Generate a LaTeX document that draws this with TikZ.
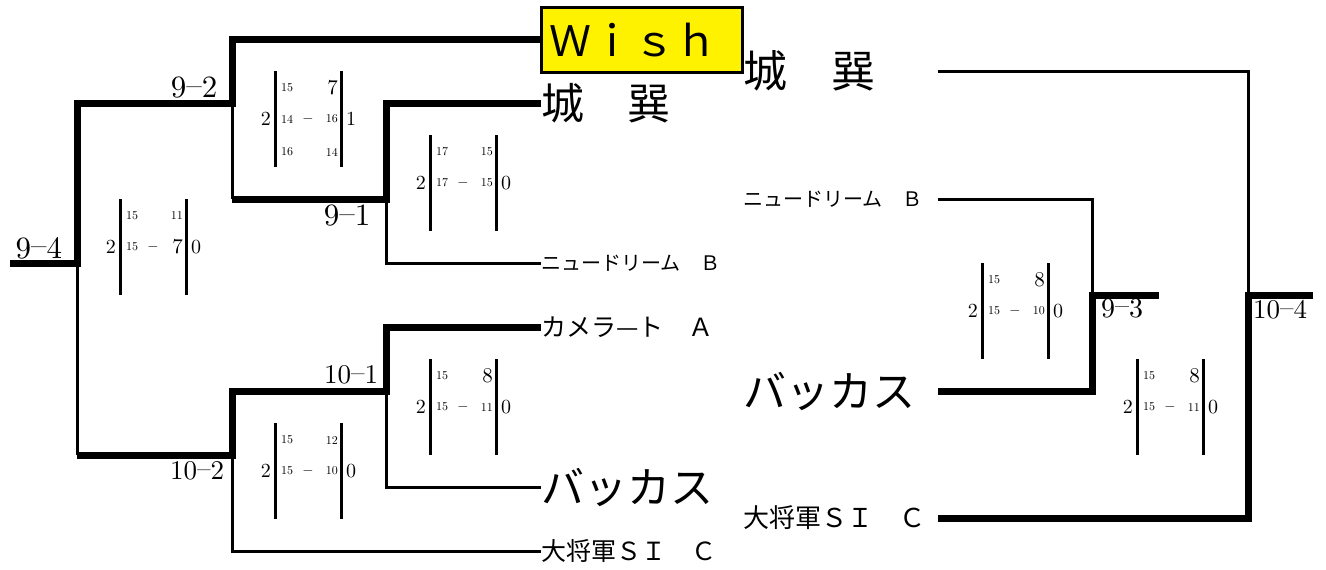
\documentclass[tikz,border=0pt]{standalone}
\usepackage{fontspec}
\newfontfamily\jp{Noto Sans CJK JP}
\newfontfamily\lmten{lmroman10-regular}[Extension=.otf]
\newcommand\fs[1]{\fontsize{#1}{#1}\selectfont}
\newcommand\sn[1]{{\fs{12}#1}}
\newcommand\bn[1]{{\fs{21}#1}}
\newcommand\dsh{\raisebox{0.08em}{–}}
\newcommand\scorebox[9]{%
  \begin{scope}[shift={(#2,#3)}]
    \draw[barline] (0,0) -- (0,96);
    \draw[barline] (66,0) -- (66,96);
    \node[num,anchor=east,font=\lmten\fs{20}] (#1-l) at (-4,48) {#4};
    \node[num,anchor=west,font=\lmten\fs{20}] (#1-r) at (71,48) {#5};
    \node[num,anchor=west] (#1-a) at (6,17) {#6};
    \node[num,anchor=east] (#1-b) at (63,17) {#7};
    \node[num,anchor=west] (#1-c) at (6,48) {#8};
    \node[num,anchor=east] (#1-d) at (63,48) {#9};
    \node[num,font=\fs{14}] (#1-m) at (33,48) {$-$};
  \end{scope}}
\begin{document}
\begin{tikzpicture}[x=1pt,y=-1pt,
  wline/.style={line width=7pt,line join=miter},
  nline/.style={line width=3pt,line join=miter},
  barline/.style={line width=3pt},
  num/.style={inner sep=0pt,font=\lmten},
  lblA/.style={inner sep=0pt,font=\lmten\fs{31}},
  lblB/.style={inner sep=0pt,font=\lmten\fs{27}},
  jname/.style={anchor=west,inner sep=0pt},
  rjname/.style={anchor=west,inner sep=0pt,text width=195pt,align=left}]
\useasboundingbox (0,0) rectangle (1326,570);

% ---- names, first column
\node[anchor=north west,draw,line width=2.5pt,fill=yellow,inner xsep=8pt,inner ysep=0pt,
      text width=185pt,align=left,minimum height=65pt,font=\jp\fs{42}] (wish) at (540,6) {Ｗｉｓｈ};
\node[jname,font=\jp\fs{43}] (jo1) at (541,103) {城　巽};
\node[jname,font=\jp\fs{20}] (nd1) at (541,263) {ニュードリーム　Ｂ};
\node[jname,font=\jp\fs{25}] (kam1) at (541,327) {カメラ—ト　Ａ};
\node[jname,font=\jp\fs{43}] (bac1) at (541,487) {バッカス};
\node[jname,font=\jp\fs{25}] (tai1) at (541,551) {大将軍ＳＩ　Ｃ};

% ---- names, second column
\node[rjname,font=\jp\fs{44}] (jo2) at (743,71) {城　巽};
\node[rjname,font=\jp\fs{20}] (nd2) at (743,199) {ニュードリーム　Ｂ};
\node[rjname,font=\jp\fs{43}] (bac2) at (743,391) {バッカス};
\node[rjname,font=\jp\fs{26}] (tai2) at (743,518) {大将軍ＳＩ　Ｃ};

% ---- junctions
\coordinate (s94) at (10,263);
\coordinate (j94) at (77,263);
\coordinate (b94) at (77,455);
\coordinate (t92) at (232,103);
\coordinate (d92) at (232,199);
\coordinate (t91) at (386,199);
\coordinate (j102) at (232,455);
\coordinate (j101) at (386,391);
\coordinate (j93) at (1092,295);
\coordinate (e93) at (1159,295);
\coordinate (j104) at (1248,295);
\coordinate (e104) at (1313,295);

% ---- left bracket
\draw[wline] (s94) -- (j94) |- (t92) |- (wish.west);
\draw[nline] (j94) -- (b94);
\draw[wline] (b94) -- (j102) |- (j101) |- (kam1.west);
\draw[nline] (t92) -- (d92);
\draw[wline] (d92) -- (t91) |- (jo1.west);
\draw[nline] (t91) |- (nd1.west);
\draw[nline] (j101) |- (bac1.west);
\draw[nline] (j102) |- (tai1.west);

% ---- right bracket
\draw[nline] (nd2.east) -| (j93);
\draw[wline] (bac2.east) -| (j93) -- (e93);
\draw[nline] (jo2.east) -| (j104);
\draw[wline] (tai2.east) -| (j104) -- (e104);

% ---- match labels
\node[lblA] (l94) at (39,248) {9\dsh4};
\node[lblA] (l92) at (194,88) {9\dsh2};
\node[lblA] (l91) at (347,216) {9\dsh1};
\node[lblB] (l101) at (351,375) {10\dsh1};
\node[lblB] (l102) at (197,471) {10\dsh2};
\node[lblB,font=\lmten\fs{28}] (l93) at (1122,308) {9\dsh3};
\node[lblB] (l104) at (1280,310) {10\dsh4};

% ---- scores
\scorebox{s94}{120}{199}{2}{0}{\sn{15}}{\sn{11}}{\sn{15}}{\bn{7}}
\scorebox{s92}{275}{71}{2}{1}{\sn{15}}{\bn{7}}{\sn{14}}{\sn{16}}
\node[num,anchor=west] (s92-e) at (281,152) {\sn{16}};
\node[num,anchor=east] (s92-f) at (338,152) {\sn{14}};
\scorebox{s91}{430}{135}{2}{0}{\sn{17}}{\sn{15}}{\sn{17}}{\sn{15}}
\scorebox{s102}{275}{423}{2}{0}{\sn{15}}{\sn{12}}{\sn{15}}{\sn{10}}
\scorebox{s101}{430}{359}{2}{0}{\sn{15}}{\bn{8}}{\sn{15}}{\sn{11}}
\scorebox{s93}{982}{263}{2}{0}{\sn{15}}{\bn{8}}{\sn{15}}{\sn{10}}
\scorebox{s104}{1137}{359}{2}{0}{\sn{15}}{\bn{8}}{\sn{15}}{\sn{11}}
\end{tikzpicture}
\end{document}
